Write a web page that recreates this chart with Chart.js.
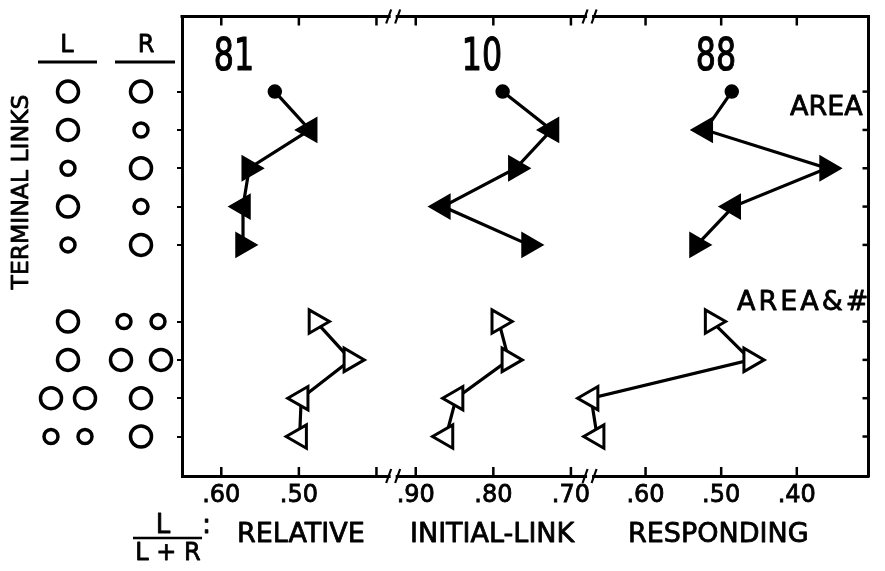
<!DOCTYPE html>
<html>
<head>
<meta charset="utf-8">
<script src="https://cdn.jsdelivr.net/npm/chart.js@4.4.1/dist/chart.umd.min.js"></script>
<style>
  html, body { margin: 0; padding: 0; background: #fff; }
  canvas { display: block; }
</style>
</head>
<body>
<canvas id="c" width="885" height="571"></canvas>
<script>
// ---------------- DATA ----------------
const panelLabels = ['81', '10', '88'];
const areaRows = [0, 1, 2, 3, 4];
const areaNumRows = [6, 7, 8, 9];
const rowTicks = [0, 1, 2, 3, 4, 6, 7, 8, 9];

// relative initial-link responding L/(L+R)
const area81 = [0.531, 0.486, 0.564, 0.572, 0.572];
const area10 = [0.788, 0.725, 0.771, 0.865, 0.754];
const area88 = [0.486, 0.521, 0.360, 0.484, 0.532];
const areaNum81 = [0.478, 0.433, 0.497, 0.499];
const areaNum10 = [0.793, 0.780, 0.848, 0.861];
const areaNum88 = [0.512, 0.461, 0.672, 0.664];

// which side the triangle points to (side with the larger stimulus)
const areaPointsTo = ['', 'L', 'R', 'L', 'R'];
const areaNumPointsTo = ['R', 'R', 'L', 'L'];

// terminal-link stimuli (B = big circle, S = small circle)
const termL = [['B'], ['B'], ['S'], ['B'], ['S'], ['B'], ['B'], ['B', 'B'], ['S', 'S']];
const termR = [['B'], ['S'], ['B'], ['S'], ['B'], ['S', 'S'], ['B', 'B'], ['B'], ['B']];

// tick values per panel and labels
const xTickValues = [[0.60, 0.50, 0.40], [0.90, 0.80, 0.70], [0.60, 0.50, 0.40]];
const xTickLabels = ['.60', '.50', '', '.90', '.80', '.70', '.60', '.50', '.40'];

// ---------------- LAYOUT (broken axis mapping) ----------------
const panelAxis = [
  { v: 0.60, u: 40, k: 790 },
  { v: 0.90, u: 238, k: 790 },
  { v: 0.60, u: 472, k: 770 }
];
const breakPositions = [215, 415];
function toU(panel, v) { const o = panelAxis[panel]; return o.u + (o.v - v) * o.k; }

const xTickPos = [];
xTickValues.forEach((arr, p) => arr.forEach(v => xTickPos.push(toU(p, v))));

function rot(side) { return side === 'L' ? 270 : 90; }

function makeSet(panel, rows, vals, filled, pointsTo, withCircle) {
  const rad = rows.map((r, i) => (withCircle && i === 0) ? 6.5 : (filled ? 14 : 13.5));
  return {
    data: rows.map((r, i) => ({ x: toU(panel, vals[i]), y: r })),
    showLine: true,
    borderColor: '#000',
    borderWidth: 3.2,
    tension: 0,
    pointStyle: rows.map((r, i) => (withCircle && i === 0) ? 'circle' : 'triangle'),
    pointRotation: rows.map((r, i) => (withCircle && i === 0) ? 0 : rot(pointsTo[i])),
    pointRadius: rad,
    pointHoverRadius: rad,
    pointBackgroundColor: filled ? '#000' : '#fff',
    pointBorderColor: '#000',
    pointBorderWidth: filled ? 1.5 : 3,
    pointHoverBorderWidth: filled ? 1.5 : 3
  };
}

const datasets = [
  makeSet(0, areaRows, area81, true, areaPointsTo, true),
  makeSet(1, areaRows, area10, true, areaPointsTo, true),
  makeSet(2, areaRows, area88, true, areaPointsTo, true),
  makeSet(0, areaNumRows, areaNum81, false, areaNumPointsTo, false),
  makeSet(1, areaNumRows, areaNum10, false, areaNumPointsTo, false),
  makeSet(2, areaNumRows, areaNum88, false, areaNumPointsTo, false)
];

const FONT = '"DejaVu Sans", "Liberation Sans", sans-serif';

function boldText(ctx, t, x, y, w) {
  ctx.lineWidth = w || 0.8;
  ctx.lineJoin = 'round';
  ctx.fillText(t, x, y);
  ctx.strokeText(t, x, y);
}

const deco = {
  id: 'deco',
  beforeDraw(chart) {
    const c = chart.ctx;
    c.save(); c.fillStyle = '#fff'; c.fillRect(0, 0, chart.width, chart.height); c.restore();
  },
  afterDraw(chart) {
    const ctx = chart.ctx, a = chart.chartArea, xs = chart.scales.x, ys = chart.scales.y;
    ctx.save();
    ctx.strokeStyle = '#000'; ctx.fillStyle = '#000'; ctx.lineCap = 'butt';
    // top and right frame
    ctx.lineWidth = 3;
    ctx.beginPath();
    ctx.moveTo(a.left - 1.5, a.top); ctx.lineTo(a.right + 1.5, a.top);
    ctx.moveTo(a.right, a.top); ctx.lineTo(a.right, a.bottom + 1.5);
    ctx.stroke();
    // inward x ticks, bottom and top
    ctx.lineWidth = 2.5;
    xs.ticks.forEach(t => {
      const px = xs.getPixelForValue(t.value);
      ctx.beginPath();
      ctx.moveTo(px, a.bottom); ctx.lineTo(px, a.bottom - 9);
      ctx.moveTo(px, a.top); ctx.lineTo(px, a.top + 9);
      ctx.stroke();
    });
    // right ticks
    ys.ticks.forEach(t => {
      const py = ys.getPixelForValue(t.value);
      ctx.beginPath(); ctx.moveTo(a.right, py); ctx.lineTo(a.right - 6, py); ctx.stroke();
    });
    // axis breaks
    breakPositions.forEach(u => {
      const px = xs.getPixelForValue(u);
      [a.top, a.bottom].forEach(y => {
        ctx.fillStyle = '#fff';
        ctx.fillRect(px - 2.5, y - 3, 5, 6);
        ctx.fillStyle = '#000';
        ctx.lineWidth = 2.2;
        ctx.beginPath();
        ctx.moveTo(px - 7, y + 7); ctx.lineTo(px - 2, y - 7);
        ctx.moveTo(px + 2, y + 7); ctx.lineTo(px + 7, y - 7);
        ctx.stroke();
      });
    });
    ctx.fillStyle = '#000';
    // panel numbers (condensed)
    const pnx = [234, 482, 716];
    panelLabels.forEach((t, i) => {
      ctx.save();
      ctx.translate(pnx[i], 70);
      ctx.scale(0.72, 1);
      ctx.font = '44px ' + FONT;
      ctx.textAlign = 'center'; ctx.textBaseline = 'alphabetic';
      boldText(ctx, t, 0, 0, 1.2);
      ctx.restore();
    });
    // group labels
    ctx.font = '27px ' + FONT;
    ctx.textAlign = 'left'; ctx.textBaseline = 'alphabetic';
    boldText(ctx, 'AREA', 790, 115);
    try { ctx.letterSpacing = '3px'; } catch (e) {}
    boldText(ctx, 'AREA&#', 737, 310);
    try { ctx.letterSpacing = '0px'; } catch (e) {}
    // TERMINAL LINKS
    ctx.save();
    ctx.translate(28, 192);
    ctx.rotate(-Math.PI / 2);
    ctx.font = '23.5px ' + FONT;
    ctx.textAlign = 'center';
    boldText(ctx, 'TERMINAL LINKS', 0, 0);
    ctx.restore();
    // L / R headers
    ctx.font = '24px ' + FONT;
    ctx.textAlign = 'center';
    boldText(ctx, 'L', 67, 52);
    boldText(ctx, 'R', 146, 52);
    ctx.lineWidth = 3;
    ctx.beginPath();
    ctx.moveTo(38, 62); ctx.lineTo(97, 62);
    ctx.moveTo(115, 62); ctx.lineTo(175, 62);
    ctx.stroke();
    // terminal-link circles
    ctx.lineWidth = 3.5;
    function drawGroup(list, cx, side, py) {
      const n = list.length;
      list.forEach((s, j) => {
        const off = n === 1 ? 0 : ((side === 'R' && s === 'B') ? 20 : 17) * (j === 0 ? -1 : 1);
        const r = s === 'B' ? 10.5 : 7;
        ctx.beginPath(); ctx.arc(cx + off, py, r, 0, Math.PI * 2); ctx.stroke();
      });
    }
    rowTicks.forEach((row, i) => {
      const py = ys.getPixelForValue(row);
      drawGroup(termL[i], 68, 'L', py);
      drawGroup(termR[i], 141, 'R', py);
    });
    // bottom title
    ctx.font = '27px ' + FONT;
    ctx.textAlign = 'left';
    boldText(ctx, 'RELATIVE', 237, 542);
    boldText(ctx, 'INITIAL-LINK', 410, 542);
    boldText(ctx, 'RESPONDING', 628, 542);
    boldText(ctx, ':', 202, 533);
    // fraction L/(L+R)
    ctx.textAlign = 'center';
    ctx.font = '26px ' + FONT;
    boldText(ctx, 'L', 163, 533);
    ctx.font = '24px ' + FONT;
    boldText(ctx, 'L + R', 168, 560);
    ctx.lineWidth = 2.5;
    ctx.beginPath(); ctx.moveTo(133, 538); ctx.lineTo(202, 538); ctx.stroke();
    ctx.restore();
  }
};

new Chart(document.getElementById('c').getContext('2d'), {
  type: 'scatter',
  data: { datasets },
  options: {
    responsive: false,
    animation: false,
    events: [],
    layout: { padding: { left: 0, top: 11, right: 4, bottom: 0 } },
    plugins: { legend: { display: false }, tooltip: { enabled: false } },
    scales: {
      x: {
        type: 'linear', min: 0, max: 699, position: 'bottom',
        afterFit(s) { s.height = 95; },
        afterBuildTicks(s) { s.ticks = xTickPos.map(v => ({ value: v })); },
        ticks: {
          callback: (v, i) => xTickLabels[i],
          font: { family: 'DejaVu Sans', size: 24 },
          color: '#000', padding: 5, maxRotation: 0, autoSkip: false,
          textStrokeColor: '#000', textStrokeWidth: 0.8
        },
        grid: { display: false, drawTicks: false },
        border: { display: true, color: '#000', width: 3 }
      },
      y: {
        type: 'linear', min: -1.96, max: 10.03, reverse: true,
        afterFit(s) { s.width = 182; },
        afterBuildTicks(s) { s.ticks = rowTicks.map(v => ({ value: v })); },
        ticks: { display: false },
        grid: { drawOnChartArea: false, drawTicks: true, tickLength: 5, color: '#000', lineWidth: 2 },
        border: { display: true, color: '#000', width: 3 }
      }
    }
  },
  plugins: [deco]
});
</script>
</body>
</html>
